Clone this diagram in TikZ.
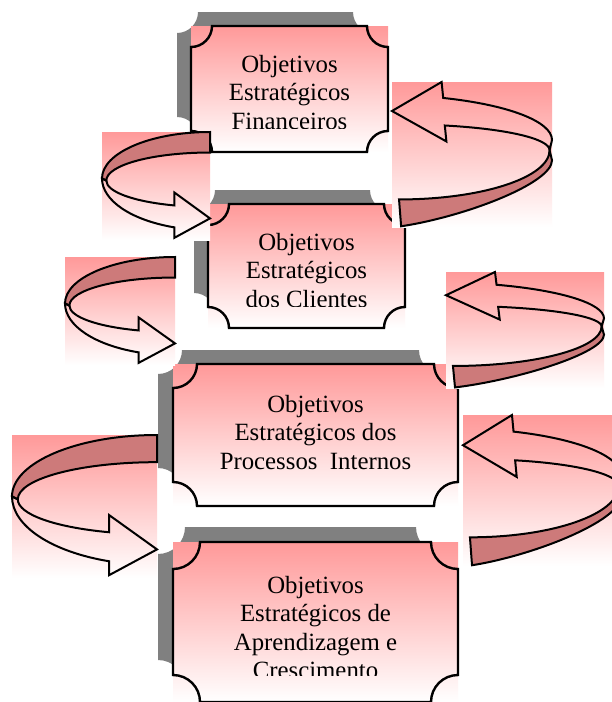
\documentclass[tikz,border=0pt]{standalone}
\usepackage{fontspec}
\setmainfont{Liberation Serif}

\definecolor{pinktop}{RGB}{255,153,153}
\definecolor{bandred}{RGB}{205,122,122}
\definecolor{shadowgray}{RGB}{128,128,128}

\tikzset{
  plaqueline/.style={draw=black, line width=2.4pt},
  shadowfill/.style={fill=shadowgray},
  pinkshade/.style={top color=pinktop, bottom color=white},
  arrowline/.style={draw=black, line width=2pt},
  bandfill/.style={fill=bandred, draw=black, line width=2pt},
  boxtext/.style={font=\fontsize{24.8}{28.5}\selectfont, inner sep=0pt, anchor=base}
}

% plaque outline: x0, y0, x1, y1, corner radius (y grows downwards)
\newcommand{\plaquepath}[5]{%
  ({#1+#5},#2) -- ({#3-#5},#2)
  .. controls ({#3-#5},{#2+0.5523*#5}) and ({#3-0.5523*#5},{#2+#5}) .. (#3,{#2+#5})
  -- (#3,{#4-#5})
  .. controls ({#3-0.5523*#5},{#4-#5}) and ({#3-#5},{#4-0.5523*#5}) .. ({#3-#5},#4)
  -- ({#1+#5},#4)
  .. controls ({#1+#5},{#4-0.5523*#5}) and ({#1+0.5523*#5},{#4-#5}) .. (#1,{#4-#5})
  -- (#1,{#2+#5})
  .. controls ({#1+0.5523*#5},{#2+#5}) and ({#1+#5},{#2+0.5523*#5}) .. ({#1+#5},#2)
  -- cycle}

% U-turn arrow bending round the left, head pointing right: x, y, width, height
\newcommand{\uturnleft}[4]{%
  \begin{scope}[shift={(#1,#2)},xscale=#3,yscale=#4]
    \shade[pinkshade] (0,0) rectangle (1,1);
    \filldraw[bandfill] (1,0) .. controls (0.448,0) and (0,0.193) .. (0,0.43)
      -- (0.04,0.45) .. controls (0.04,0.306) and (0.47,0.19) .. (1,0.19) -- cycle;
    \draw[arrowline] (0.04,0.45) .. controls (0.04,0.553) and (0.291,0.645) .. (0.67,0.68)
      -- (0.67,0.56) -- (1,0.80) -- (0.67,0.98) -- (0.67,0.883)
      .. controls (0.269,0.816) and (0,0.634) .. (0,0.43) -- cycle;
  \end{scope}}

% U-turn arrow bending round the right, head pointing left: x, y, width, height
\newcommand{\uturnright}[4]{%
  \begin{scope}[shift={(#1,#2)},xscale=#3,yscale=#4]
    \shade[pinkshade] (0,0) rectangle (1,1);
    \filldraw[bandfill] (0.044,0.81) -- (0.057,0.995)
      .. controls (0.45,0.93) and (1,0.70) .. (1,0.54) -- (0.985,0.47)
      .. controls (0.985,0.658) and (0.564,0.81) .. (0.044,0.81) -- cycle;
    \draw[arrowline] (0,0.2) -- (0.31,0) -- (0.32,0.11)
      .. controls (0.725,0.157) and (1,0.272) .. (1,0.40) -- (0.985,0.47)
      .. controls (0.985,0.392) and (0.718,0.323) .. (0.33,0.30) -- (0.34,0.41) -- cycle;
  \end{scope}}

\begin{document}
\begin{tikzpicture}[x=1pt,y=-1pt]
\useasboundingbox (0,0) rectangle (612,702);
\clip (0,0) rectangle (612,702);
\fill[white] (0,0) rectangle (612,702);

% Financeiros
\fill[shadowfill] \plaquepath{177}{12}{374}{138}{21};
\shade[pinkshade] (191,26) rectangle (388,152);
\draw[plaqueline] \plaquepath{191}{26}{388}{152}{21};
\begin{scope}
  \clip (191,26) rectangle (388,128.5);
  \node[boxtext] (fin1) at (289.5,72) {Objetivos};
  \node[boxtext] (fin2) at (289.5,100.5) {Estratégicos};
  \node[boxtext] (fin3) at (289.5,129) {Financeiros};
\end{scope}

% Clientes
\fill[shadowfill] \plaquepath{194}{190}{391}{314}{21};
\shade[pinkshade] (208,204) rectangle (405,328);
\draw[plaqueline] \plaquepath{208}{204}{405}{328}{21};
\begin{scope}
  \clip (208,204) rectangle (405,306);
  \node[boxtext] (cli1) at (306.5,250) {Objetivos};
  \node[boxtext] (cli2) at (306.5,278.5) {Estratégicos};
  \node[boxtext] (cli3) at (306.5,307) {dos Clientes};
\end{scope}

% Processos internos
\fill[shadowfill] \plaquepath{158}{350}{443}{492}{24};
\shade[pinkshade] (173,364) rectangle (458,506);
\draw[plaqueline] \plaquepath{173}{364}{458}{506}{24};
\node[boxtext] (pro1) at (315.5,412) {Objetivos};
\node[boxtext] (pro2) at (315.5,440.5) {Estratégicos dos};
\node[boxtext] (pro3) at (315.5,469) {Processos\ \ Internos};

% Aprendizagem e crescimento
\fill[shadowfill] \plaquepath{158}{527}{443}{687}{27};
\shade[pinkshade] (173,542) rectangle (458,702);
\draw[plaqueline] \plaquepath{173}{542}{458}{702}{27};
\begin{scope}
  \clip (173,542) rectangle (458,675);
  \node[boxtext] (apr1) at (315.5,593) {Objetivos};
  \node[boxtext] (apr2) at (315.5,621.5) {Estratégicos de};
  \node[boxtext] (apr3) at (315.5,650) {Aprendizagem e};
  \node[boxtext] (apr4) at (315.5,678.5) {Crescimento};
\end{scope}

% curved arrows
\uturnleft{102}{132}{108}{108}
\uturnleft{65}{257}{110}{108}
\uturnleft{12}{435}{145}{143}
\uturnright{392}{82}{160}{145}
\uturnright{446}{272}{158}{116}
\uturnright{463}{415}{158}{151}
\end{tikzpicture}
\end{document}
